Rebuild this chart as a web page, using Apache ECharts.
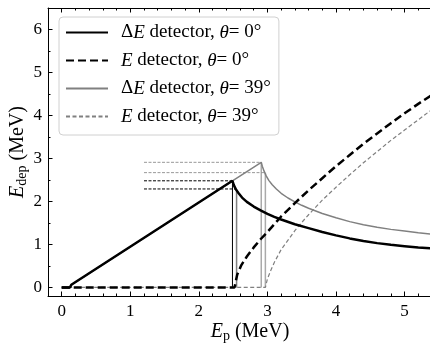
<!DOCTYPE html>
<html>
<head>
<meta charset="utf-8">
<script src="https://cdn.jsdelivr.net/npm/echarts@6/dist/echarts.min.js"></script>
<style>
  html, body { margin: 0; padding: 0; background: #fff; }
  #chart { width: 430px; height: 345px; }
</style>
</head>
<body>
<div id="chart"></div>
<script>
// E_p (MeV) vs deposited energy (MeV)
const dE0 = [[0, 0], [0.12, 0], [0.14, 0.06], [2.49, 2.48], [2.51, 2.38], [2.54, 2.28], [2.58, 2.19],
  [2.63, 2.09], [2.7, 1.99], [2.8, 1.88], [2.9, 1.79], [3.0, 1.71], [3.1, 1.64], [3.2, 1.58],
  [3.4, 1.47], [3.6, 1.38], [3.8, 1.29], [4.0, 1.21], [4.2, 1.14], [4.4, 1.08], [4.6, 1.03],
  [4.8, 0.99], [5.0, 0.96], [5.2, 0.93], [5.4, 0.91]]
const E0 = [[0, 0], [2.52, 0], [2.56, 0.3], [2.62, 0.52], [2.7, 0.72], [2.8, 0.93], [2.9, 1.12],
  [3.0, 1.29], [3.1, 1.47], [3.2, 1.65], [3.4, 1.96], [3.6, 2.26], [3.8, 2.54], [4.0, 2.82],
  [4.2, 3.08], [4.4, 3.34], [4.6, 3.58], [4.8, 3.82], [5.0, 4.05], [5.2, 4.27], [5.4, 4.48]]
const dE39 = [[0, 0], [0.12, 0], [0.14, 0.06], [2.49, 2.48], [2.91, 2.91], [2.925, 2.82], [2.95, 2.71],
  [2.98, 2.60], [3.02, 2.49], [3.07, 2.39], [3.13, 2.29], [3.2, 2.19], [3.3, 2.08], [3.4, 1.99],
  [3.5, 1.91], [3.6, 1.84], [3.8, 1.72], [4.0, 1.62], [4.2, 1.53], [4.4, 1.46], [4.6, 1.40],
  [4.8, 1.35], [5.0, 1.31], [5.2, 1.27], [5.4, 1.24]]
const E39 = [[0, 0], [2.97, 0], [3.0, 0.2], [3.05, 0.4], [3.1, 0.58], [3.2, 0.88], [3.3, 1.1],
  [3.4, 1.32], [3.5, 1.51], [3.6, 1.69], [3.8, 2.03], [4.0, 2.33], [4.2, 2.62], [4.4, 2.90],
  [4.6, 3.16], [4.8, 3.42], [5.0, 3.66], [5.2, 3.90], [5.4, 4.14]]

// punch-through markers: [E_p, E_dep]
const marks0 = [[2.49, 2.48], [2.55, 2.29]]
const marks39 = [[2.91, 2.91], [2.97, 2.67]]
const markStart = 1.2

const xMajor = [0, 1, 2, 3, 4, 5]
const xMinor = [0.2, 0.4, 0.6, 0.8, 1.2, 1.4, 1.6, 1.8, 2.2, 2.4, 2.6, 2.8, 3.2, 3.4, 3.6, 3.8,
  4.2, 4.4, 4.6, 4.8, 5.2]
const yMajor = [0, 1, 2, 3, 4, 5, 6]
const yMinor = [0.5, 1.5, 2.5, 3.5, 4.5, 5.5]

const legendNames = {
  dE0: '{n|Δ}{i|E}{n| detector, }{i|θ}{n|= 0°}',
  E0: '{i|E}{n| detector, }{i|θ}{n|= 0°}',
  dE39: '{n|Δ}{i|E}{n| detector, }{i|θ}{n|= 39°}',
  E39: '{i|E}{n| detector, }{i|θ}{n|= 39°}'
}

const FONT = "'Liberation Serif', 'DejaVu Serif', serif"

const chart = echarts.init(document.getElementById('chart'), null, { renderer: 'canvas' })

function vline(p, color, width) {
  return {
    type: 'line', data: [[p[0], 0], p], symbol: 'none', silent: true,
    lineStyle: { color: color, width: width }, z: 1
  }
}
function hline(p, color) {
  return {
    type: 'line', data: [[markStart, p[1]], p], symbol: 'none', silent: true,
    lineStyle: { color: color, width: 1, type: [3, 1.5] }, z: 1
  }
}

const tickBase = { inside: true, lineStyle: { color: '#000', width: 1 } }
const nameRich = {
  i: { fontFamily: FONT, fontSize: 20, fontStyle: 'italic', color: '#000', lineHeight: 22 },
  s: { fontFamily: FONT, fontSize: 14, color: '#000', lineHeight: 8, verticalAlign: 'bottom' },
  n: { fontFamily: FONT, fontSize: 20, color: '#000', lineHeight: 22 }
}

const option = {
  animation: false,
  backgroundColor: '#fff',
  grid: { left: 48, right: -2, top: 8, bottom: 49, show: false, outerBoundsMode: 'none', containLabel: false },
  legend: {
    orient: 'vertical',
    left: 59, top: 17,
    data: ['dE0', 'E0', 'dE39', 'E39'],
    itemWidth: 42, itemHeight: 14, itemGap: 9,
    padding: [6, 8, 9, 6],
    backgroundColor: 'rgba(255,255,255,0.85)',
    borderColor: '#d0d0d0', borderWidth: 1, borderRadius: 4,
    itemStyle: { opacity: 0 },
    formatter: name => legendNames[name],
    textStyle: {
      fontFamily: FONT, fontSize: 19, color: '#000', padding: [0, 0, 0, 8],
      rich: {
        n: { fontFamily: FONT, fontSize: 19, color: '#000', lineHeight: 19 },
        i: { fontFamily: FONT, fontSize: 19, color: '#000', fontStyle: 'italic', lineHeight: 19 }
      }
    }
  },
  xAxis: [
    {
      type: 'value', min: -0.2, max: 5.4, position: 'bottom',
      axisLine: { onZero: false, lineStyle: { color: '#000', width: 1 } },
      axisTick: Object.assign({ length: 2.5, customValues: xMinor }, tickBase),
      axisLabel: { customValues: xMajor, fontFamily: FONT, fontSize: 17, color: '#000', margin: 7 },
      splitLine: { show: false },
      name: '{i|E}{s|p}{n| (MeV)}',
      nameLocation: 'middle', nameGap: 25, nameMoveOverlap: false,
      nameTextStyle: { padding: [0, 0, 0, 20], rich: nameRich }
    },
    {
      type: 'value', min: -0.2, max: 5.4, position: 'bottom',
      axisLine: { show: false, onZero: false },
      axisTick: Object.assign({ length: 4.5, customValues: xMajor }, tickBase),
      axisLabel: { show: false }, splitLine: { show: false }
    },
    {
      type: 'value', min: -0.2, max: 5.4, position: 'top',
      axisLine: { onZero: false, lineStyle: { color: '#000', width: 1 } },
      axisTick: Object.assign({ length: 2.5, customValues: xMinor }, tickBase),
      axisLabel: { show: false }, splitLine: { show: false }
    },
    {
      type: 'value', min: -0.2, max: 5.4, position: 'top',
      axisLine: { show: false, onZero: false },
      axisTick: Object.assign({ length: 4.5, customValues: xMajor }, tickBase),
      axisLabel: { show: false }, splitLine: { show: false }
    }
  ],
  yAxis: [
    {
      type: 'value', min: -0.2, max: 6.5, position: 'left',
      axisLine: { onZero: false, lineStyle: { color: '#000', width: 1 } },
      axisTick: Object.assign({ length: 2.5, customValues: yMinor }, tickBase),
      axisLabel: { customValues: yMajor, fontFamily: FONT, fontSize: 17, color: '#000', margin: 6 },
      splitLine: { show: false },
      name: '{i|E}{s|dep}{n| (MeV)}',
      nameLocation: 'middle', nameGap: 19, nameRotate: 90, nameMoveOverlap: false,
      nameTextStyle: { rich: nameRich }
    },
    {
      type: 'value', min: -0.2, max: 6.5, position: 'left',
      axisLine: { show: false, onZero: false },
      axisTick: Object.assign({ length: 4.5, customValues: yMajor }, tickBase),
      axisLabel: { show: false }, splitLine: { show: false }
    }
  ],
  series: [
    vline(marks0[0], '#000', 1),
    vline(marks0[1], '#808080', 1.5),
    vline(marks39[0], '#aaaaaa', 1.5),
    vline(marks39[1], '#aaaaaa', 1.5),
    hline(marks0[0], '#000'),
    hline(marks0[1], '#000'),
    hline(marks39[0], '#999'),
    hline(marks39[1], '#999'),
    {
      name: 'E39', type: 'line', data: E39, symbol: 'none', z: 2,
      itemStyle: { color: '#808080' },
      lineStyle: { color: '#808080', width: 1.2, type: [4, 2.5] }
    },
    {
      name: 'dE39', type: 'line', data: dE39, symbol: 'none', z: 3,
      itemStyle: { color: '#808080' },
      lineStyle: { color: '#808080', width: 1.5 }
    },
    {
      name: 'E0', type: 'line', data: E0, symbol: 'none', z: 4,
      itemStyle: { color: '#000' },
      lineStyle: { color: '#000', width: 2.5, type: [8, 4] }
    },
    {
      name: 'dE0', type: 'line', data: dE0, symbol: 'none', z: 5,
      itemStyle: { color: '#000' },
      lineStyle: { color: '#000', width: 2.5 }
    }
  ]
}

chart.setOption(option)
</script>
</body>
</html>
